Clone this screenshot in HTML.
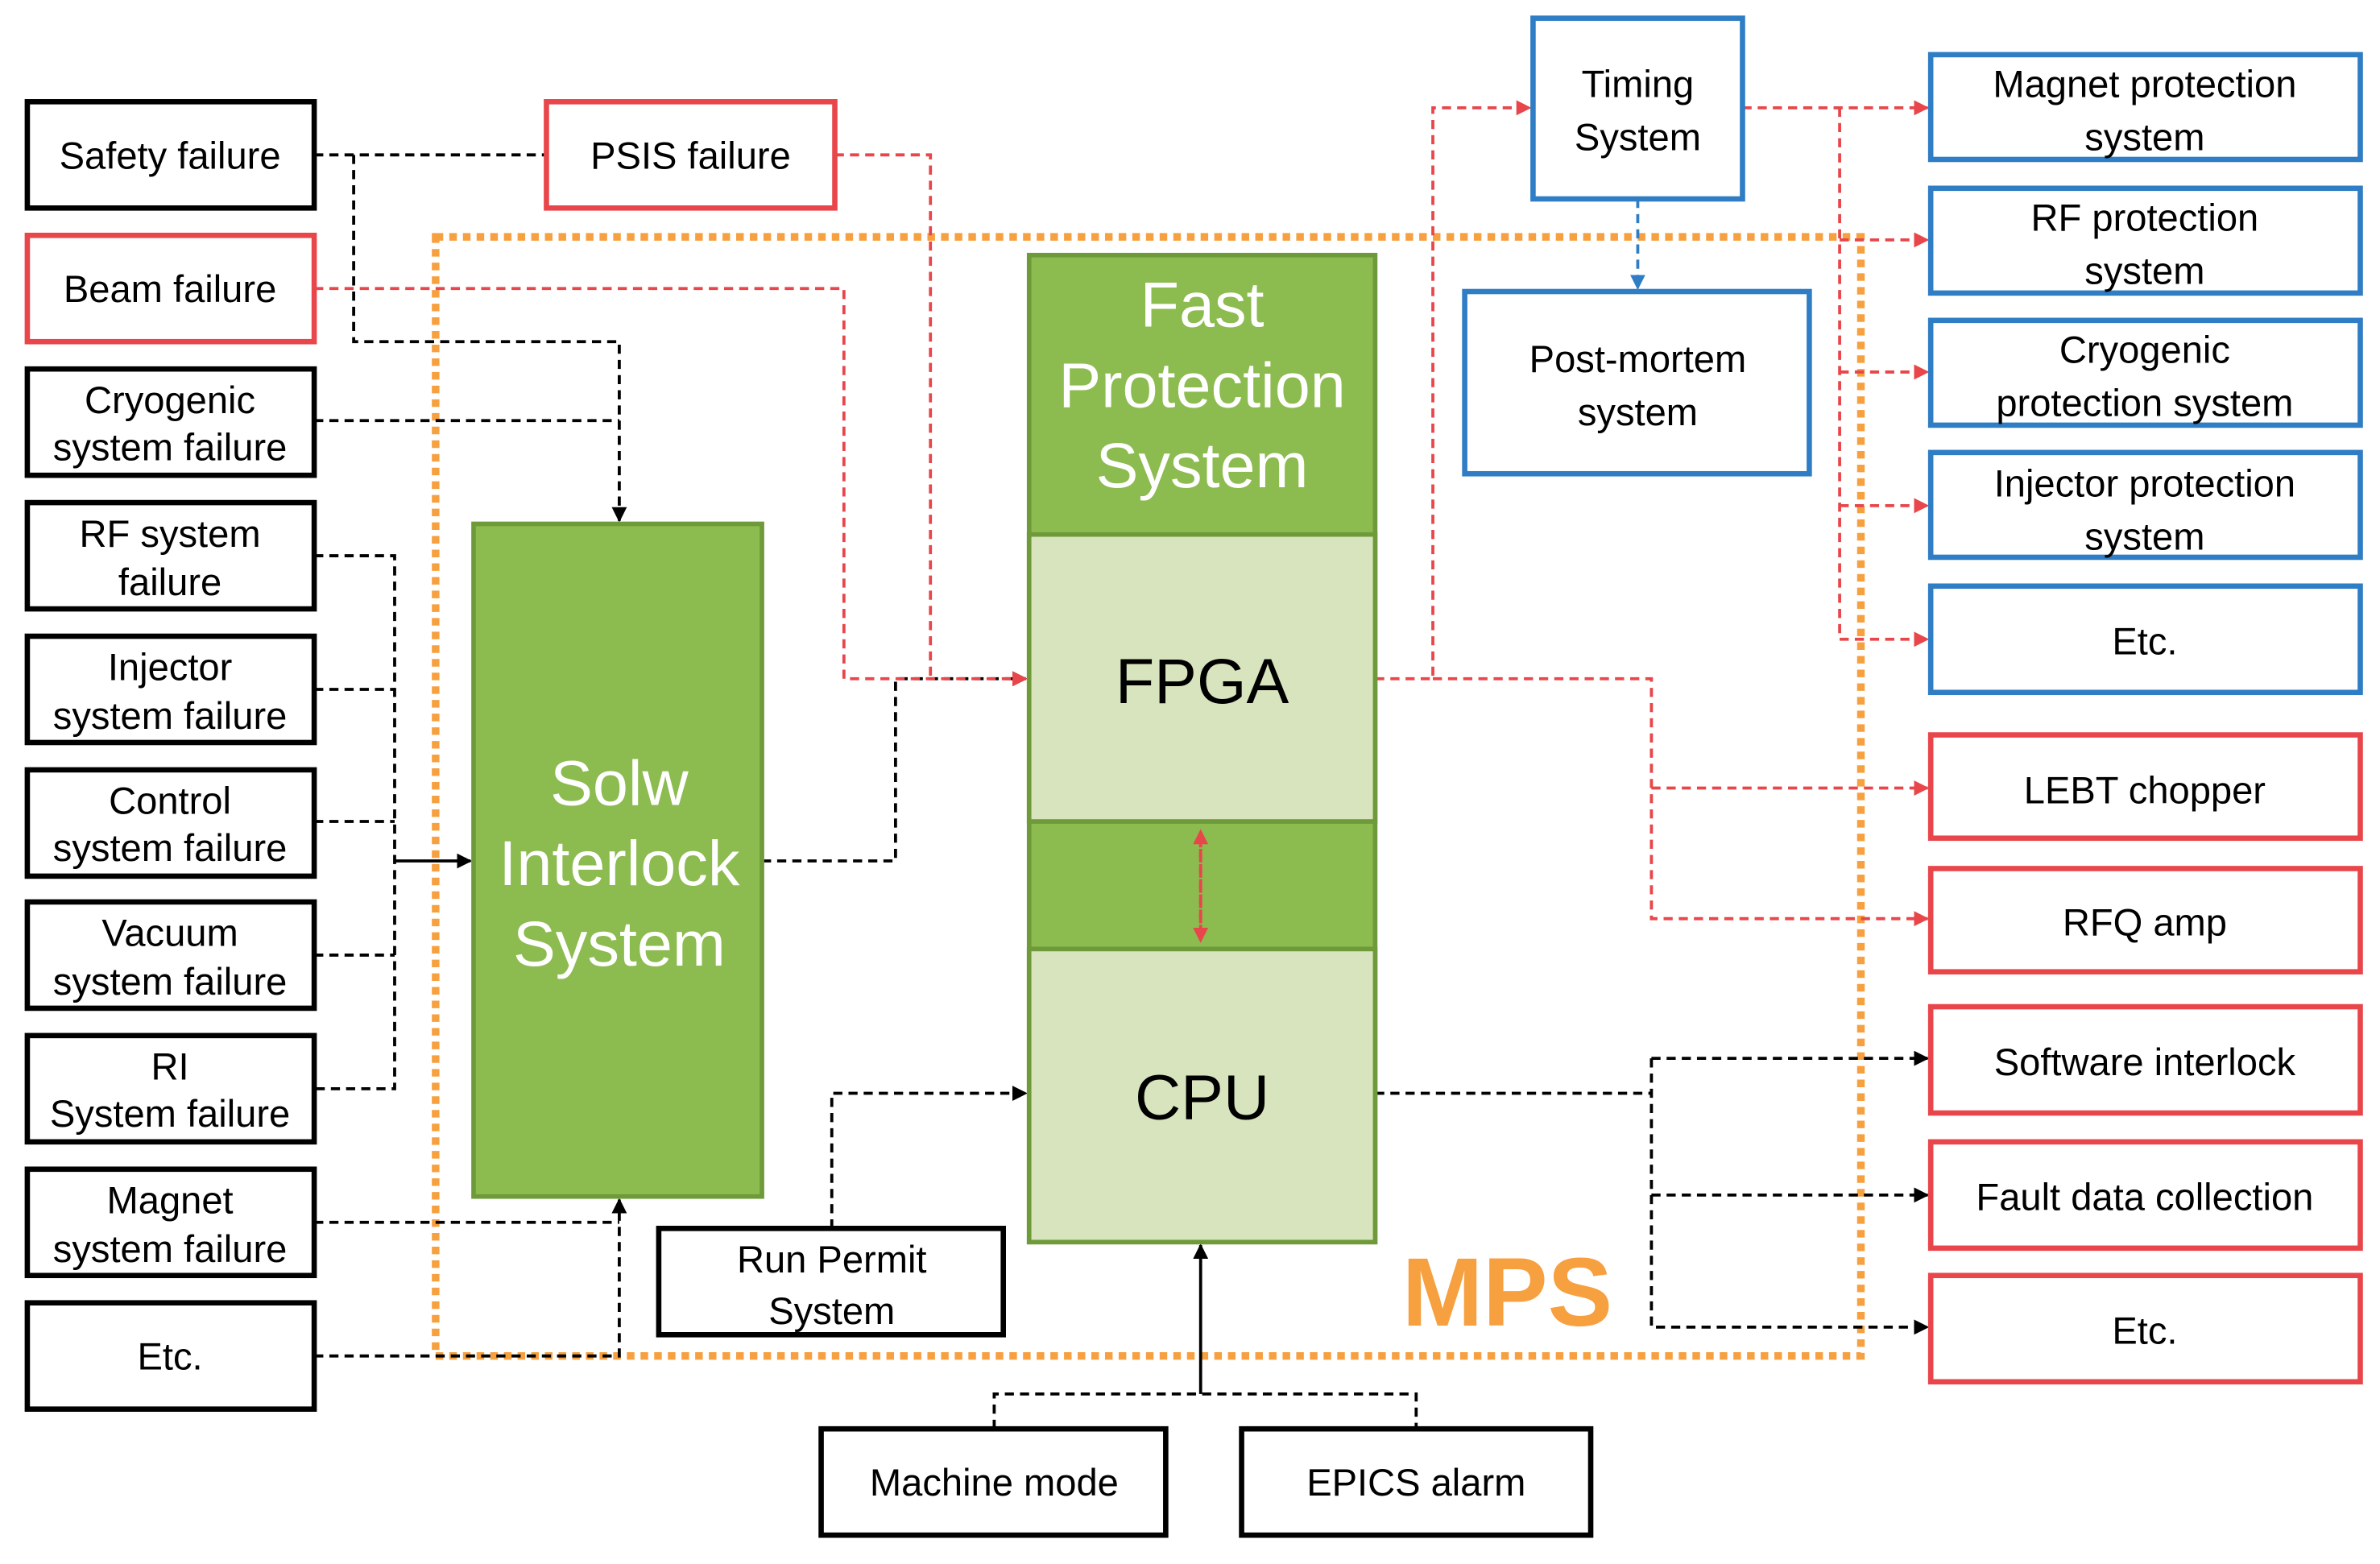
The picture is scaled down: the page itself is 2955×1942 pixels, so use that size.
<!DOCTYPE html>
<html><head><meta charset="utf-8"><style>
html,body{margin:0;padding:0;background:#fff;}
svg{display:block;}
text{font-family:"Liberation Sans","Noto Sans CJK KR",sans-serif;}
</style></head><body>
<svg width="2955" height="1942" viewBox="0 0 1568 1030" preserveAspectRatio="none" xmlns="http://www.w3.org/2000/svg">
<defs>
<marker id="ak" markerWidth="10" markerHeight="10" refX="9" refY="5" orient="auto" markerUnits="userSpaceOnUse"><path d="M0,0 L10,5 L0,10 z" fill="#000"/></marker>
<marker id="ar" markerWidth="10" markerHeight="10" refX="9" refY="5" orient="auto" markerUnits="userSpaceOnUse"><path d="M0,0 L10,5 L0,10 z" fill="#e8464a"/></marker>
<marker id="ab" markerWidth="10" markerHeight="10" refX="9" refY="5" orient="auto" markerUnits="userSpaceOnUse"><path d="M0,0 L10,5 L0,10 z" fill="#2f7dc4"/></marker>
</defs>
<rect width="1568" height="1030" fill="#fff"/>

<rect x="287" y="156" width="939" height="737" fill="none" stroke="#f7a040" stroke-width="5" stroke-dasharray="5,4"/>
<text x="993" y="873" font-size="64" font-weight="bold" fill="#f7a040" text-anchor="middle">MPS</text>

<g fill="none" stroke="#000" stroke-width="2" stroke-dasharray="6,4">
<path d="M207,102 H360"/>
<path d="M233,102 V225 H408 V343" marker-end="url(#ak)"/>
<path d="M207,277 H408"/>
<path d="M207,366 H260 V717 H207"/>
<path d="M207,454 H260"/><path d="M207,541 H260"/><path d="M207,629 H260"/>
<path d="M207,805 H408"/>
<path d="M207,893 H408 V790" marker-end="url(#ak)"/>
<path d="M502,567 H590 V447 H676" marker-end="url(#ak)"/>
<path d="M548,809 V720 H676" marker-end="url(#ak)"/>
<path d="M655,941 V918 H933 V941"/>
<path d="M906,720 H1088"/>
<path d="M1088,697 V874 H1270" marker-end="url(#ak)"/>
<path d="M1088,697 H1270" marker-end="url(#ak)"/>
<path d="M1088,787 H1270" marker-end="url(#ak)"/>
</g>
<path d="M260,567 H310" stroke="#000" stroke-width="2" marker-end="url(#ak)"/>
<path d="M791,918 V820" stroke="#000" stroke-width="2" marker-end="url(#ak)"/>

<g fill="none" stroke="#e8464a" stroke-width="2" stroke-dasharray="6,4">
<path d="M207,190 H556 V447 H676" marker-end="url(#ar)"/>
<path d="M550,102 H613 V447"/>
<path d="M906,447 H944 V71 H1008" marker-end="url(#ar)"/>
<path d="M1148,71 H1270" marker-end="url(#ar)"/>
<path d="M1212,71 V421 H1270" marker-end="url(#ar)"/>
<path d="M1212,158 H1270" marker-end="url(#ar)"/>
<path d="M1212,245 H1270" marker-end="url(#ar)"/>
<path d="M1212,333 H1270" marker-end="url(#ar)"/>
<path d="M944,447 H1088 V605 H1270" marker-end="url(#ar)"/>
<path d="M1088,519 H1270" marker-end="url(#ar)"/>
</g>
<path d="M1079,131 V190" fill="none" stroke="#2f7dc4" stroke-width="2" stroke-dasharray="6,4" marker-end="url(#ab)"/>

<g fill="#fff" stroke-width="3.5">
<rect x="18" y="67" width="189" height="70" stroke="#000"/>
<rect x="18" y="155" width="189" height="70" stroke="#e8464a"/>
<rect x="18" y="243" width="189" height="70" stroke="#000"/>
<rect x="18" y="331" width="189" height="70" stroke="#000"/>
<rect x="18" y="419" width="189" height="70" stroke="#000"/>
<rect x="18" y="507" width="189" height="70" stroke="#000"/>
<rect x="18" y="594" width="189" height="70" stroke="#000"/>
<rect x="18" y="682" width="189" height="70" stroke="#000"/>
<rect x="18" y="770" width="189" height="70" stroke="#000"/>
<rect x="18" y="858" width="189" height="70" stroke="#000"/>
<rect x="360" y="67" width="190" height="70" stroke="#e8464a"/>
<rect x="434" y="809" width="227" height="70" stroke="#000"/>
<rect x="541" y="941" width="227" height="70" stroke="#000"/>
<rect x="818" y="941" width="230" height="70" stroke="#000"/>
<rect x="1010" y="12" width="138" height="119" stroke="#2f7dc4"/>
<rect x="965" y="192" width="227" height="120" stroke="#2f7dc4"/>
<rect x="1272" y="36" width="283" height="69" stroke="#2f7dc4"/>
<rect x="1272" y="124" width="283" height="69" stroke="#2f7dc4"/>
<rect x="1272" y="211" width="283" height="69" stroke="#2f7dc4"/>
<rect x="1272" y="298" width="283" height="69" stroke="#2f7dc4"/>
<rect x="1272" y="386" width="283" height="70" stroke="#2f7dc4"/>
<rect x="1272" y="484" width="283" height="68" stroke="#e8464a"/>
<rect x="1272" y="572" width="283" height="68" stroke="#e8464a"/>
<rect x="1272" y="663" width="283" height="70" stroke="#e8464a"/>
<rect x="1272" y="752" width="283" height="70" stroke="#e8464a"/>
<rect x="1272" y="840" width="283" height="70" stroke="#e8464a"/>
</g>

<rect x="312" y="345" width="190" height="443" fill="#8cbb4f" stroke="#6e9a3a" stroke-width="3"/>
<rect x="678" y="168" width="228" height="650" fill="#8cbb4f" stroke="#6e9a3a" stroke-width="3"/>
<rect x="678" y="352" width="228" height="189" fill="#d7e4bd" stroke="#6e9a3a" stroke-width="3"/>
<rect x="678" y="625" width="228" height="193" fill="#d7e4bd" stroke="#6e9a3a" stroke-width="3"/>
<path d="M791,552 V620" stroke="#e8464a" stroke-width="2" stroke-dasharray="6,4" marker-end="url(#ar)"/>
<path d="M791,615 V547" stroke="#e8464a" stroke-width="2" stroke-dasharray="6,4" marker-end="url(#ar)"/>

<g font-size="25" fill="#000" text-anchor="middle">
<text x="112" y="111">Safety failure</text>
<text x="112" y="199">Beam failure</text>
<text x="112" y="272">Cryogenic</text><text x="112" y="303">system failure</text>
<text x="112" y="360">RF system</text><text x="112" y="392">failure</text>
<text x="112" y="448">Injector</text><text x="112" y="480">system failure</text>
<text x="112" y="536">Control</text><text x="112" y="567">system failure</text>
<text x="112" y="623">Vacuum</text><text x="112" y="655">system failure</text>
<text x="112" y="711">RI</text><text x="112" y="742">System failure</text>
<text x="112" y="799">Magnet</text><text x="112" y="831">system failure</text>
<text x="112" y="902">Etc.</text>
<text x="455" y="111">PSIS failure</text>
<text x="548" y="838">Run Permit</text><text x="548" y="872">System</text>
<text x="655" y="985">Machine mode</text>
<text x="933" y="985">EPICS alarm</text>
<text x="1079" y="64">Timing</text><text x="1079" y="99">System</text>
<text x="1079" y="245">Post-mortem</text><text x="1079" y="280">system</text>
<text x="1413" y="64">Magnet protection</text><text x="1413" y="99">system</text>
<text x="1413" y="152">RF protection</text><text x="1413" y="187">system</text>
<text x="1413" y="239">Cryogenic</text><text x="1413" y="274">protection system</text>
<text x="1413" y="327">Injector protection</text><text x="1413" y="362">system</text>
<text x="1413" y="431">Etc.</text>
<text x="1413" y="529">LEBT chopper</text>
<text x="1413" y="616">RFQ amp</text>
<text x="1413" y="708">Software interlock</text>
<text x="1413" y="797">Fault data collection</text>
<text x="1413" y="885">Etc.</text>
</g>
<g font-size="42" fill="#fff" text-anchor="middle">
<text x="408" y="530">Solw</text><text x="408" y="583">Interlock</text><text x="408" y="636">System</text>
<text x="792" y="215">Fast</text><text x="792" y="268">Protection</text><text x="792" y="321">System</text>
</g>
<text x="792" y="463" font-size="42" text-anchor="middle" fill="#000">FPGA</text>
<text x="792" y="737" font-size="42" text-anchor="middle" fill="#000">CPU</text>
</svg>
</body></html>
